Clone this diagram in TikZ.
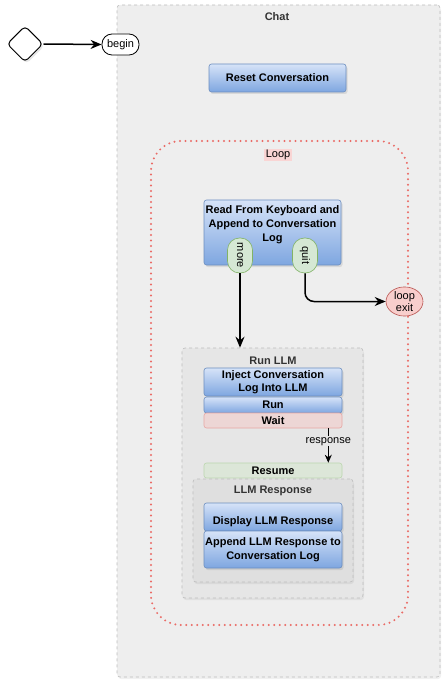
\documentclass[tikz,border=0pt]{standalone}
\usepackage{fontspec}
\setmainfont{Liberation Sans}
\usetikzlibrary{shapes.geometric,arrows.meta,shadows,calc}
\definecolor{chatbg}{HTML}{EEEEEE}
\definecolor{contline}{HTML}{BDBDBD}
\definecolor{runbg}{HTML}{E6E6E6}
\definecolor{respbg}{HTML}{DFDFDF}
\definecolor{bluetop}{HTML}{D6E3F8}
\definecolor{bluebot}{HTML}{7EA6E0}
\definecolor{blueline}{HTML}{6C8EBF}
\definecolor{redfill}{HTML}{F8CECC}
\definecolor{redline}{HTML}{B85450}
\definecolor{loopdot}{HTML}{EA6B66}
\definecolor{waitfill}{HTML}{EDD6D5}
\definecolor{waitline}{HTML}{E8A6A3}
\definecolor{greenfill}{HTML}{D5E8D4}
\definecolor{greenline}{HTML}{82B366}
\definecolor{resumefill}{HTML}{DCE6D8}
\definecolor{resumeline}{HTML}{BBD6AE}
\definecolor{labelgray}{HTML}{333333}
\begin{document}
\begin{tikzpicture}[x=1pt,y=-1pt,
  txt/.style={font=\fontsize{11}{14}\selectfont},
  btxt/.style={font=\fontsize{11}{14}\selectfont\bfseries},
  container/.style={draw=contline, dashed, line width=0.6pt, rounded corners=3pt,
    inner sep=0pt, drop shadow={opacity=0.12, shadow xshift=1pt, shadow yshift=-2pt}},
  bluebox/.style={draw=blueline, top color=bluetop, bottom color=bluebot,
    rounded corners=2.5pt, line width=0.6pt, inner sep=1pt, minimum width=138pt,
    btxt, align=center,
    drop shadow={opacity=0.2, shadow xshift=1.5pt, shadow yshift=-2pt}},
  pill/.style={draw=greenline, fill=greenfill, rounded corners=12pt, line width=0.6pt,
    minimum width=35pt, minimum height=25pt, inner sep=0pt, txt, rotate=-90},
  flow/.style={line width=1.5pt, -{Stealth[length=11pt,width=9pt]}},
]
\useasboundingbox (0,0) rectangle (447,684);

% containers
\node (chat) [container, fill=chatbg, minimum width=323pt, minimum height=672pt] at (278.5,341) {};
\node (chatlabel) [btxt, text=labelgray] at (277,17) {Chat};

\node (loop) [draw=loopdot, line width=2.2pt, line cap=round, dash pattern=on 0pt off 5.5pt,
  rounded corners=30pt, minimum width=257pt, minimum height=484pt, inner sep=0pt] at (279.5,383) {};
\node (looplabel) [txt, fill=redfill!85!white, inner sep=1.5pt] at (278,155) {Loop};

% start
\node (start) [diamond, draw=black, fill=white, line width=1pt, rounded corners=4pt,
  minimum width=36pt, minimum height=36pt, inner sep=0pt,
  drop shadow={opacity=0.2, shadow xshift=1.5pt, shadow yshift=-2pt}] at (25,44) {};
\node (begin) [draw=black, fill=white, line width=0.8pt, rounded corners=10pt,
  minimum width=37pt, minimum height=21pt, inner sep=0pt, txt] at (120.5,44.5) {begin};
\draw[flow] (start.east) -- (begin.west);

\node (reset) [bluebox, minimum width=137pt, minimum height=28pt] at (277.5,78) {Reset Conversation};

% read
\node (read) [bluebox, minimum width=137pt, minimum height=65pt] at (272.5,232.5) {};
\node (readtext) [btxt, align=center, anchor=north, inner sep=0pt] at ($(read.north)+(0,6)$)
  {Read From Keyboard and\\Append to Conversation\\Log};
\node (more) [pill] at (240,255.5) {more};
\node (quit) [pill] at (305,255.5) {quit};

\node (loopexit) [ellipse, draw=redline, fill=redfill, line width=0.6pt, minimum width=37pt,
  minimum height=25pt, inner sep=0pt, txt, align=center,
  font=\fontsize{11}{12.5}\selectfont] at (404.5,301.5) {loop\\exit};

% Run LLM
\node (runllm) [container, fill=runbg, minimum width=181pt, minimum height=250pt] at (272.5,473) {};
\node (runlabel) [btxt, text=labelgray] at (273,361) {Run LLM};
\node (inject) [bluebox, minimum height=28pt, font=\fontsize{11}{13}\selectfont\bfseries] at (273,382) {Inject Conversation\\Log Into LLM};
\node (run) [bluebox, minimum height=16pt] at (273,405) {Run};
\node (wait) [draw=waitline, fill=waitfill, rounded corners=2.5pt, line width=0.6pt,
  minimum width=138pt, minimum height=15pt, inner sep=0pt, btxt] at (273,420.5) {Wait};
\node (resume) [draw=resumeline, fill=resumefill, rounded corners=2.5pt, line width=0.6pt,
  minimum width=138pt, minimum height=15pt, inner sep=0pt, btxt] at (273,470.5) {Resume};

\draw[line width=0.9pt, -{Stealth[length=8pt,width=7pt]}]
  ($(wait.south east)+(-14,0)$) -- node[txt, fill=runbg, inner sep=1pt, pos=0.38] (resplabel) {response}
  ($(resume.north east)+(-14,0)$);

% LLM Response
\node (llmresp) [container, fill=respbg, minimum width=160pt, minimum height=103pt] at (273,530.5) {};
\node (resplbl) [btxt, text=labelgray] at (273,491) {LLM Response};
\node (display) [bluebox, minimum height=28pt] at (273,517) {};
\node (displaytext) [btxt] at (273,522) {Display LLM Response};
\node (append) [bluebox, minimum height=37pt] at (273,549.5) {Append LLM Response to\\Conversation Log};

% connectors
\draw[flow] (more.east) -- (more.east |- runllm.north);
\draw[flow, rounded corners=9pt] (quit.east) |- (loopexit.west);
\end{tikzpicture}
\end{document}
